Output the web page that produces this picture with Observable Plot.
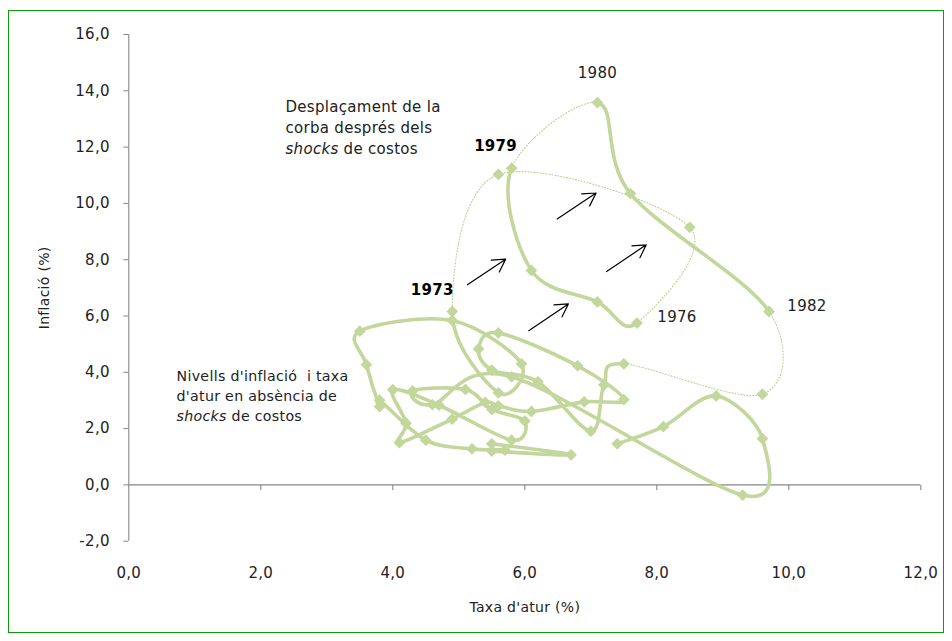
<!DOCTYPE html>
<html>
<head>
<meta charset="utf-8">
<script src="https://cdn.jsdelivr.net/npm/d3@7"></script>
<script src="https://cdn.jsdelivr.net/npm/@observablehq/plot@0.6"></script>
<style>
  html, body { margin: 0; padding: 0; background: #fff; }
  #wrap { position: relative; width: 952px; height: 641px; }
  #border { position: absolute; left: 8px; top: 10px; width: 936px; height: 623px;
            border: 1px solid #0d9a0d; box-sizing: border-box; pointer-events: none; }
  #chart { position: absolute; left: 0; top: 0; }
</style>
</head>
<body>
<div id="wrap"><div id="chart"></div><div id="border"></div></div>
<script>
// ---- data ----
const years = [1960,1961,1962,1963,1964,1965,1966,1967,1968,1969,
               1970,1971,1972,1973,1974,1975,1976,1977,1978,1979,
               1980,1981,1982,1983,1984,1985,1986,1987,1988,1989,
               1990,1991,1992,1993,1994,1995,1996,1997,1998,1999,
               2000,2001,2002,2003,2004,2005,2006,2007,2008,2009,
               2010,2011,2012,2013];
const unemployment = [5.5,6.7,5.5,5.7,5.2,4.5,3.8,3.8,3.6,3.5,
                      4.9,5.95,5.6,4.9,5.6,8.5,7.7,7.1,6.1,5.8,
                      7.1,7.6,9.7,9.6,7.5,7.2,7.0,6.2,5.5,5.3,
                      5.6,6.8,7.5,6.9,6.1,5.6,5.4,4.9,4.1,4.2,
                      4.0,4.7,5.8,6.0,5.5,5.1,4.3,4.6,5.8,9.3,
                      9.6,8.9,8.1,7.4];
const inflation = [1.46,1.07,1.20,1.24,1.28,1.59,3.01,2.78,4.27,5.46,
                   5.84,4.30,3.27,6.16,11.03,9.15,5.75,6.50,7.62,11.25,
                   13.58,10.35,6.16,3.22,4.30,3.55,1.91,3.66,4.08,4.83,
                   5.40,4.23,3.03,2.95,2.61,2.81,2.93,2.34,1.50,2.19,
                   3.38,2.83,1.59,2.27,2.68,3.39,3.34,2.85,3.84,-0.36,
                   1.64,3.16,2.07,1.46];
// segments (year -> next year) drawn as thin dotted "shift" curves
const dottedFrom = [1973,1974,1975,1979,1982,1983];
// year labels
const labelYears = [1973,1976,1979,1980,1982];
const boldYears = [1973,1979];
// axis ticks
const xTicks = [0,2,4,6,8,10,12];
const yTicks = [-2,0,2,4,6,8,10,12,14,16];
// arrows showing the shift of the curve (data units)
const arrowX1 = [5.13,6.06,6.49,7.24];
const arrowY1 = [7.11,5.48,9.45,7.58];
const arrowX2 = [5.71,6.66,7.08,7.84];
const arrowY2 = [8.02,6.43,10.37,8.53];
// annotation texts
const noteShift = ["Desplaçament de la", "corba després dels", "shocks de costos"];
const noteBase = ["Nivells d'inflació  i taxa", "d'atur en absència de", "shocks de costos"];

// ---- build ----
const points = years.map((yr, i) => ({year: yr, u: unemployment[i], p: inflation[i]}));
const arrows = arrowX1.map((d, i) => ({x1: d, y1: arrowY1[i], x2: arrowX2[i], y2: arrowY2[i]}));
const dottedIdx = new Set(dottedFrom.map(y => years.indexOf(y)));

// Excel-like smoothed line, emitting only the selected segments
function excelSmooth(select) {
  return function(context) {
    let pts = [];
    return {
      areaStart() {}, areaEnd() {},
      lineStart() { pts = []; },
      point(x, y) { pts.push([+x, +y]); },
      lineEnd() {
        const n = pts.length;
        for (let i = 0; i < n - 1; i++) {
          if (!select(i)) continue;
          const p0 = pts[Math.max(0, i - 1)], p1 = pts[i], p2 = pts[i + 1], p3 = pts[Math.min(n - 1, i + 2)];
          const c1x = p1[0] + (p2[0] - p0[0]) / 6, c1y = p1[1] + (p2[1] - p0[1]) / 6;
          const c2x = p2[0] - (p3[0] - p1[0]) / 6, c2y = p2[1] - (p3[1] - p1[1]) / 6;
          context.moveTo(p1[0], p1[1]);
          context.bezierCurveTo(c1x, c1y, c2x, c2y, p2[0], p2[1]);
        }
      }
    };
  };
}

const green = "#c3d69b";
const axisColor = "#868686";
const textColor = "#222";
const fmt = d => d.toFixed(1).replace(".", ",");
const tickDown = { draw(ctx) { ctx.moveTo(0, 0); ctx.lineTo(0, 5); } };

const labelOffsets = {1973: [-20, -21], 1976: [40, -6], 1979: [-16, -22], 1980: [0, -29], 1982: [38, -5]};

const yearLabelMarks = labelYears.map(yr => {
  const d = points.find(p => p.year === yr);
  const [dx, dy] = labelOffsets[yr];
  const bold = boldYears.includes(yr);
  return Plot.text([d], {x: "u", y: "p", text: d => String(d.year), dx, dy,
    fontWeight: bold ? "bold" : "normal", fill: bold ? "#000" : textColor, fontSize: 15});
});

const chart = Plot.plot({
  width: 952, height: 641,
  marginLeft: 128.3, marginRight: 31.7, marginTop: 34, marginBottom: 100.3,
  x: {domain: [0, 12]},
  y: {domain: [-2, 16]},
  style: {fontFamily: "'DejaVu Sans', sans-serif", fontSize: "15px", color: textColor, background: "#fff"},
  marks: [
    Plot.ruleX([0], {y1: -2, y2: 16, stroke: axisColor, strokeWidth: 1.1}),
    Plot.ruleY([0], {x1: 0, x2: 12, stroke: axisColor, strokeWidth: 1.1}),
    Plot.axisY({ticks: yTicks, tickSize: 5, tickPadding: 14, tickFormat: fmt, stroke: axisColor,
                fill: textColor, label: null, fontSize: 15}),
    Plot.axisX({ticks: xTicks, tickSize: 0, tickPadding: 26, tickFormat: fmt,
                fill: textColor, label: null, fontSize: 15}),
    Plot.dot(xTicks.filter(d => d > 0), {x: d => d, y: () => 0, symbol: tickDown, stroke: axisColor, fill: "none", strokeWidth: 1.1}),
    Plot.text(["Taxa d'atur (%)"], {frameAnchor: "bottom", textAnchor: "middle", lineAnchor: "middle", dy: 66, fontSize: 14, fill: textColor}),
    Plot.text(["Inflació (%)"], {frameAnchor: "left", textAnchor: "middle", lineAnchor: "middle", dx: -84, rotate: -90, fontSize: 14, fill: textColor}),
    Plot.line(points, {x: "u", y: "p", curve: excelSmooth(i => dottedIdx.has(i)),
      stroke: "#bcd08f", strokeWidth: 1.1, strokeDasharray: "1 2", fill: "none"}),
    Plot.line(points, {x: "u", y: "p", curve: excelSmooth(i => !dottedIdx.has(i)),
      stroke: green, strokeWidth: 3.6, strokeLinecap: "round", strokeLinejoin: "round", fill: "none"}),
    Plot.dot(points, {x: "u", y: "p", symbol: "diamond2", r: 5.3, fill: green, stroke: "none"}),
    Plot.arrow(arrows, {x1: "x1", y1: "y1", x2: "x2", y2: "y2", stroke: "#000", strokeWidth: 1.2, headLength: 18, headAngle: 60}),
    Plot.text([noteShift.join("\n")], {x: () => 2.374, y: () => 12.73, textAnchor: "start", lineAnchor: "middle",
      lineHeight: 1.4, fontSize: 15, fill: textColor}),
    Plot.text([noteBase.join("\n")], {x: () => 0.723, y: () => 3.2, textAnchor: "start", lineAnchor: "middle",
      lineHeight: 1.4, fontSize: 14.2, fill: textColor}),
    ...yearLabelMarks
  ]
});

// italicise "shocks" in the notes
chart.querySelectorAll("tspan").forEach(t => {
  if (t.textContent.startsWith("shocks ")) {
    const rest = t.textContent.slice("shocks".length);
    t.textContent = "";
    const it = document.createElementNS("http://www.w3.org/2000/svg", "tspan");
    it.setAttribute("font-style", "italic");
    it.textContent = "shocks";
    t.appendChild(it);
    t.appendChild(document.createTextNode(rest));
  }
});
chart.querySelectorAll("text").forEach(t => { t.style.letterSpacing = "0.3px"; });
document.getElementById("chart").appendChild(chart);
</script>
</body>
</html>
